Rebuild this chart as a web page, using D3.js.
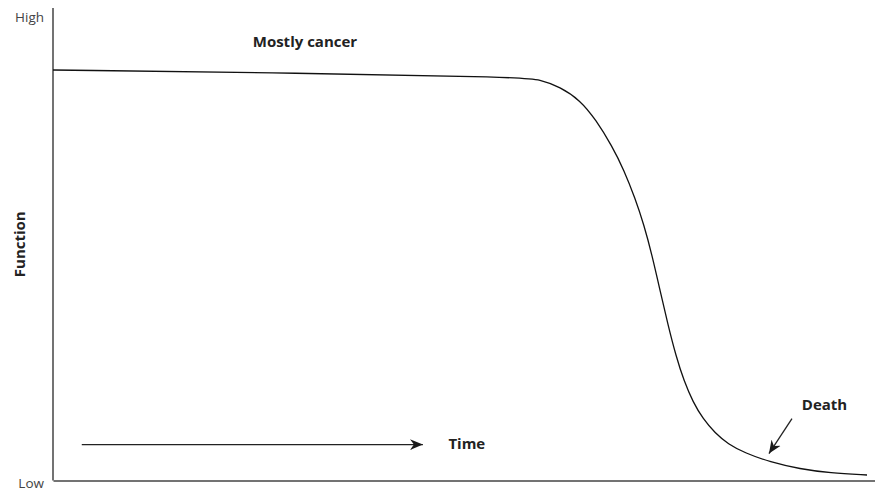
<!DOCTYPE html>
<html><head><meta charset="utf-8">
<script src="https://cdn.jsdelivr.net/npm/d3@7/dist/d3.min.js"></script>
<style>
html,body{margin:0;padding:0;background:#fff;}
svg{display:block;}
text{font-family:"Open Sans","Noto Sans",sans-serif;}
</style></head>
<body>
<svg id="chart" width="875" height="491"></svg>
<script>
// Data (time 0-100, function 0-100)
const timeValues = [0, 30.05, 56.81, 59.25, 61.68, 64.11, 66.06, 68.00, 69.46, 70.80, 71.90, 72.87, 73.84, 74.82, 75.79, 76.76, 77.86, 79.08, 80.54, 82.12, 84.18, 87.23, 90.88, 94.53, 99.03];
const functionValues = [86.88, 86.24, 85.33, 84.87, 83.28, 80.53, 76.30, 70.79, 65.71, 59.79, 54.07, 47.72, 40.32, 32.91, 26.35, 21.06, 16.61, 13.02, 10.05, 7.72, 5.82, 3.92, 2.43, 1.59, 1.16];
const yTickValues = [0, 98];
const yTickLabels = ["Low", "High"];
const yAxisTitle = "Function";
const annotations = [
  {text: "Mostly cancer", t: 24.3, f: 91.7},
  {text: "Time", t: 48.1, f: 6.6},
  {text: "Death", t: 91.1, f: 15.0}
];
const arrows = [
  {t0: 3.5, f0: 7.6, t1: 45.0, f1: 7.6},
  {t0: 89.9, f0: 13.1, t1: 87.1, f1: 5.7}
];

const svg = d3.select("#chart");
const x = d3.scaleLinear().domain([0, 100]).range([53, 875]);
const y = d3.scaleLinear().domain([0, 100]).range([480.5, 8]);

// arrow marker
svg.append("defs").append("marker")
  .attr("id", "ah").attr("viewBox", "-13 -6 14 12")
  .attr("refX", 0).attr("refY", 0)
  .attr("markerUnits", "userSpaceOnUse")
  .attr("markerWidth", 14).attr("markerHeight", 12)
  .attr("orient", "auto")
  .append("path").attr("d", "M0,0 L-13,-5.5 L-9,0 L-13,5.5 Z").attr("fill", "#1a1a1a");

// y axis
const yAxis = d3.axisLeft(y).tickValues(yTickValues)
  .tickFormat((d, i) => yTickLabels[i]).tickSize(0).tickPadding(9);
const gy = svg.append("g").attr("transform", `translate(${x(0)},0)`).call(yAxis);
gy.select(".domain").attr("stroke", "#444").attr("stroke-width", 1.5).attr("d", `M0,${y(0)}V${y(100)}`);
gy.selectAll(".tick text").attr("font-size", 13.5).attr("fill", "#444")
  .attr("font-family", "'Open Sans','Noto Sans',sans-serif");
gy.selectAll(".tick").filter((d) => d === 0).select("text").attr("dy", "0.5em");

// x axis (line only)
const xAxis = d3.axisBottom(x).tickValues([]).tickSize(0);
const gx = svg.append("g").attr("transform", `translate(0,${y(0)})`).call(xAxis);
gx.select(".domain").attr("stroke", "#444").attr("stroke-width", 1.5);

// axis title
svg.append("text")
  .attr("transform", `translate(25,${y(50)}) rotate(-90)`)
  .attr("text-anchor", "middle")
  .attr("font-size", 15).attr("font-weight", "bold").attr("fill", "#222")
  .text(yAxisTitle);

// curve
const pts = timeValues.map((t, i) => [t, functionValues[i]]);
const line = d3.line().x(d => x(d[0])).y(d => y(d[1])).curve(d3.curveBasis);
svg.append("path").datum(pts).attr("d", line)
  .attr("fill", "none").attr("stroke", "#111").attr("stroke-width", 1.3);

// arrows
svg.selectAll(".arr").data(arrows).enter().append("line")
  .attr("x1", d => x(d.t0)).attr("y1", d => y(d.f0))
  .attr("x2", d => x(d.t1)).attr("y2", d => y(d.f1))
  .attr("stroke", "#222").attr("stroke-width", 1.3)
  .attr("marker-end", "url(#ah)");

// labels
svg.selectAll(".ann").data(annotations).enter().append("text")
  .attr("x", d => x(d.t)).attr("y", d => y(d.f))
  .attr("font-size", 15).attr("font-weight", "bold").attr("fill", "#222")
  .text(d => d.text);
</script>
</body></html>
